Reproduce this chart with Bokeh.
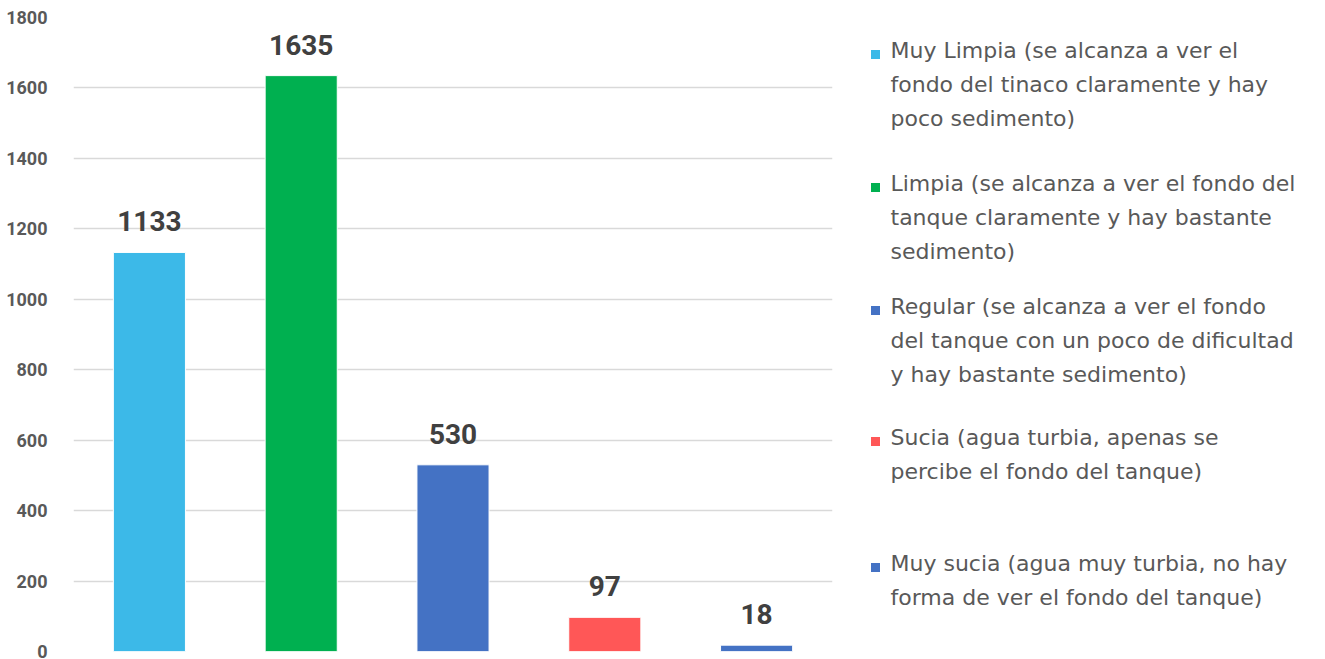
from bokeh.plotting import figure
from bokeh.layouts import row
from bokeh.models import ColumnDataSource, FixedTicker, Range1d
from bokeh.core.properties import value
from bokeh.embed import file_html
from bokeh.resources import INLINE

categories = ["Muy Limpia", "Limpia", "Regular", "Sucia", "Muy sucia"]
counts = [1133, 1635, 530, 97, 18]
colors = ["#3CB9E8", "#00B050", "#4472C4", "#FF5757", "#4472C4"]
legend_labels = [
    "Muy Limpia (se alcanza a ver el\nfondo del tinaco claramente y hay\npoco sedimento)",
    "Limpia (se alcanza a ver el fondo del\ntanque claramente y hay bastante\nsedimento)",
    "Regular (se alcanza a ver el fondo\ndel tanque con un poco de dificultad\ny hay bastante sedimento)",
    "Sucia (agua turbia, apenas se\npercibe el fondo del tanque)",
    "Muy sucia (agua muy turbia, no hay\nforma de ver el fondo del tanque)",
]
y_ticks = [0, 200, 400, 600, 800, 1000, 1200, 1400, 1600, 1800]

H = 659
TOP, BOT = 17, 8
src = ColumnDataSource(dict(cat=categories, val=counts, color=colors,
                            txt=[str(v) for v in counts]))

p = figure(x_range=categories, y_range=Range1d(0, 1800), width=848, height=H,
           title=None, output_backend="svg", toolbar_location=None,
           min_border_left=73, min_border_right=16, min_border_top=TOP, min_border_bottom=BOT)
p.vbar(x="cat", top="val", width=0.475, fill_color="color", line_color="white",
       line_width=1, source=src)
p.text(x="cat", y="val", text="txt", source=src, text_align="center",
       text_baseline="alphabetic", y_offset=-31, text_font=value("Roboto"),
       text_font_style="bold", text_font_size="28px", text_color="#404040")
p.xaxis.visible = False
p.yaxis.ticker = FixedTicker(ticks=y_ticks)
p.yaxis.axis_line_color = None
p.yaxis.major_tick_line_color = None
p.yaxis.minor_tick_line_color = None
p.yaxis.major_label_text_font = "Roboto"
p.yaxis.major_label_text_font_style = "bold"
p.yaxis.major_label_text_font_size = "18px"
p.yaxis.major_label_text_color = "#595959"
p.yaxis.major_label_standoff = 20
p.xgrid.grid_line_color = None
p.ygrid.grid_line_color = "#D9D9D9"
p.ygrid.grid_line_width = 1.5
p.outline_line_color = None

# legend panel: one text glyph per line (frame is aligned with the chart frame)
first_center = [50, 183, 306, 437, 563]
line_step = 34
ly, lt = [], []
for c, lab in zip(first_center, legend_labels):
    for i, ln in enumerate(lab.split("\n")):
        ly.append(c + i * line_step)
        lt.append(ln)
leg = figure(width=469, height=H, x_range=Range1d(0, 469), y_range=Range1d(H - BOT, TOP),
             title=None, output_backend="svg", toolbar_location=None,
             min_border_left=0, min_border_right=0, min_border_top=TOP, min_border_bottom=BOT,
             x_axis_type=None, y_axis_type=None)
leg.grid.visible = False
leg.outline_line_color = None
msrc = ColumnDataSource(dict(y=[c + 4 for c in first_center], color=colors))
leg.rect(x=27, y="y", width=9, height=9, fill_color="color", line_color=None, source=msrc)
tsrc = ColumnDataSource(dict(y=ly, t=lt))
leg.text(x=42, y="y", text="t", source=tsrc, text_baseline="middle",
         text_font=value("DejaVu Sans"), text_font_size="22px", text_color="#595959")

layout = row(p, leg)
open("out.html", "w").write(file_html(layout, INLINE))
